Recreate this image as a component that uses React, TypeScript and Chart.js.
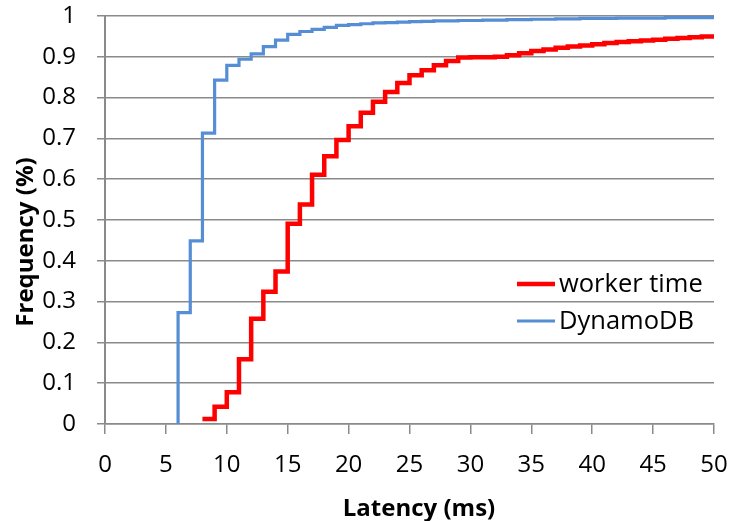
import React, { useEffect, useRef } from "react";
import { Chart, registerables } from "chart.js";

Chart.register(...registerables);

// ---- data ----
const workerLatency = [8, 9, 10, 11, 12, 13, 14, 15, 16, 17, 18, 19, 20, 21, 22, 23, 24, 25, 26, 27, 28, 29, 30, 31, 32, 33, 34, 35, 36, 37, 38, 39, 40, 41, 42, 43, 44, 45, 46, 47, 48, 49, 50];
const workerCdf = [0.012, 0.042, 0.078, 0.159, 0.258, 0.324, 0.374, 0.491, 0.538, 0.611, 0.656, 0.696, 0.73, 0.763, 0.79, 0.814, 0.836, 0.855, 0.867, 0.879, 0.89, 0.898, 0.899, 0.899, 0.9, 0.904, 0.909, 0.914, 0.918, 0.922, 0.925, 0.928, 0.931, 0.934, 0.936, 0.938, 0.94, 0.942, 0.944, 0.946, 0.948, 0.95, 0.951];

const dynamoLatency = [6, 6, 7, 8, 9, 10, 11, 12, 13, 14, 15, 16, 17, 18, 19, 20, 21, 22, 23, 24, 25, 26, 27, 28, 29, 30, 31, 32, 33, 34, 35, 36, 37, 38, 39, 40, 41, 42, 43, 44, 45, 46, 47, 48, 49, 50];
const dynamoCdf = [0, 0.273, 0.449, 0.713, 0.843, 0.879, 0.894, 0.907, 0.925, 0.941, 0.955, 0.962, 0.967, 0.972, 0.977, 0.979, 0.981, 0.983, 0.984, 0.985, 0.986, 0.987, 0.988, 0.988, 0.989, 0.989, 0.99, 0.99, 0.991, 0.991, 0.992, 0.992, 0.993, 0.993, 0.994, 0.994, 0.994, 0.995, 0.995, 0.995, 0.995, 0.996, 0.996, 0.996, 0.996, 0.996];

const seriesNames = ["worker time", "DynamoDB"];
const seriesColors = ["#ff0000", "#558ed5"];
const xTicks = [0, 5, 10, 15, 20, 25, 30, 35, 40, 45, 50];
const yTickLabels = ["0", "0.1", "0.2", "0.3", "0.4", "0.5", "0.6", "0.7", "0.8", "0.9", "1"];
const xTitle = "Latency (ms)";
const yTitle = "Frequency (%)";

const FONT = "'Open Sans', 'Noto Sans', sans-serif";
const GRID = "#8a8a8a";

const overlay = {
  id: "overlay",
  afterDraw(chart: any) {
    const ctx = chart.ctx as CanvasRenderingContext2D;
    ctx.save();
    chart.data.datasets.forEach((ds: any, i: number) => {
      const yy = 284 + i * 37;
      ctx.strokeStyle = ds.borderColor;
      ctx.lineWidth = ds.borderWidth;
      ctx.beginPath();
      ctx.moveTo(517, yy);
      ctx.lineTo(555, yy);
      ctx.stroke();
      ctx.fillStyle = "#000";
      ctx.font = `25.5px ${FONT}`;
      ctx.textBaseline = "middle";
      ctx.textAlign = "left";
      ctx.fillText(ds.label, 559, yy + 1);
    });
    ctx.font = `bold 24px ${FONT}`;
    ctx.fillStyle = "#000";
    ctx.textAlign = "center";
    ctx.textBaseline = "middle";
    ctx.fillText(xTitle, 419, 509);
    ctx.translate(26, 242);
    ctx.rotate(-Math.PI / 2);
    ctx.fillText(yTitle, 0, 0);
    ctx.restore();
  },
};

export default function App() {
  const ref = useRef<HTMLCanvasElement>(null);
  useEffect(() => {
    document.body.style.margin = "0";
    const canvas = ref.current!;
    const chart = new Chart(canvas, {
      type: "line",
      data: {
        datasets: [
          {
            label: seriesNames[0],
            data: workerLatency.map((x, i) => ({ x, y: workerCdf[i] })),
            borderColor: seriesColors[0],
            backgroundColor: seriesColors[0],
            borderWidth: 4.5,
            pointRadius: 0,
            stepped: "before",
            fill: false,
            borderCapStyle: "butt",
          },
          {
            label: seriesNames[1],
            data: dynamoLatency.map((x, i) => ({ x, y: dynamoCdf[i] })),
            borderColor: seriesColors[1],
            backgroundColor: seriesColors[1],
            borderWidth: 3.2,
            pointRadius: 0,
            stepped: "before",
            fill: false,
          },
        ],
      },
      options: {
        responsive: false,
        animation: false,
        devicePixelRatio: 1,
        layout: { padding: { left: 0, right: 17, top: 16, bottom: 0 } },
        plugins: {
          legend: { display: false },
          tooltip: { enabled: false },
        },
        scales: {
          x: {
            type: "linear",
            min: 0,
            max: 50,
            afterFit: (s: any) => {
              s.height = 97;
              s.paddingLeft = 0;
              s.paddingRight = 0;
            },
            afterBuildTicks: (s: any) => {
              s.ticks = xTicks.map((v) => ({ value: v }));
            },
            grid: {
              drawOnChartArea: false,
              drawTicks: true,
              tickLength: 10,
              color: GRID,
              lineWidth: 1.5,
            },
            border: { display: true, color: GRID, width: 1.5 },
            ticks: {
              color: "#000",
              font: { family: FONT, size: 24 },
              padding: 17,
              maxRotation: 0,
              autoSkip: false,
            },
          },
          y: {
            type: "linear",
            min: 0,
            max: 1,
            afterFit: (s: any) => {
              s.width = 105;
              s.paddingTop = 0;
              s.paddingBottom = 0;
            },
            afterBuildTicks: (s: any) => {
              s.ticks = yTickLabels.map((_, i) => ({ value: i / 10 }));
            },
            grid: {
              drawOnChartArea: true,
              drawTicks: true,
              tickLength: 8,
              color: GRID,
              lineWidth: 1.5,
            },
            border: { display: true, color: GRID, width: 2 },
            ticks: {
              color: "#000",
              font: { family: FONT, size: 24 },
              padding: 21,
              autoSkip: false,
              callback: (_v: any, i: number) => yTickLabels[i],
            },
          },
        },
      },
      plugins: [overlay],
    } as any);
    return () => chart.destroy();
  }, []);
  return (
    <div style={{ position: "fixed", left: 0, top: 0, width: 731, height: 521, background: "#fff" }}>
      <canvas ref={ref} width={731} height={521} style={{ display: "block", width: 731, height: 521 }} />
    </div>
  );
}
